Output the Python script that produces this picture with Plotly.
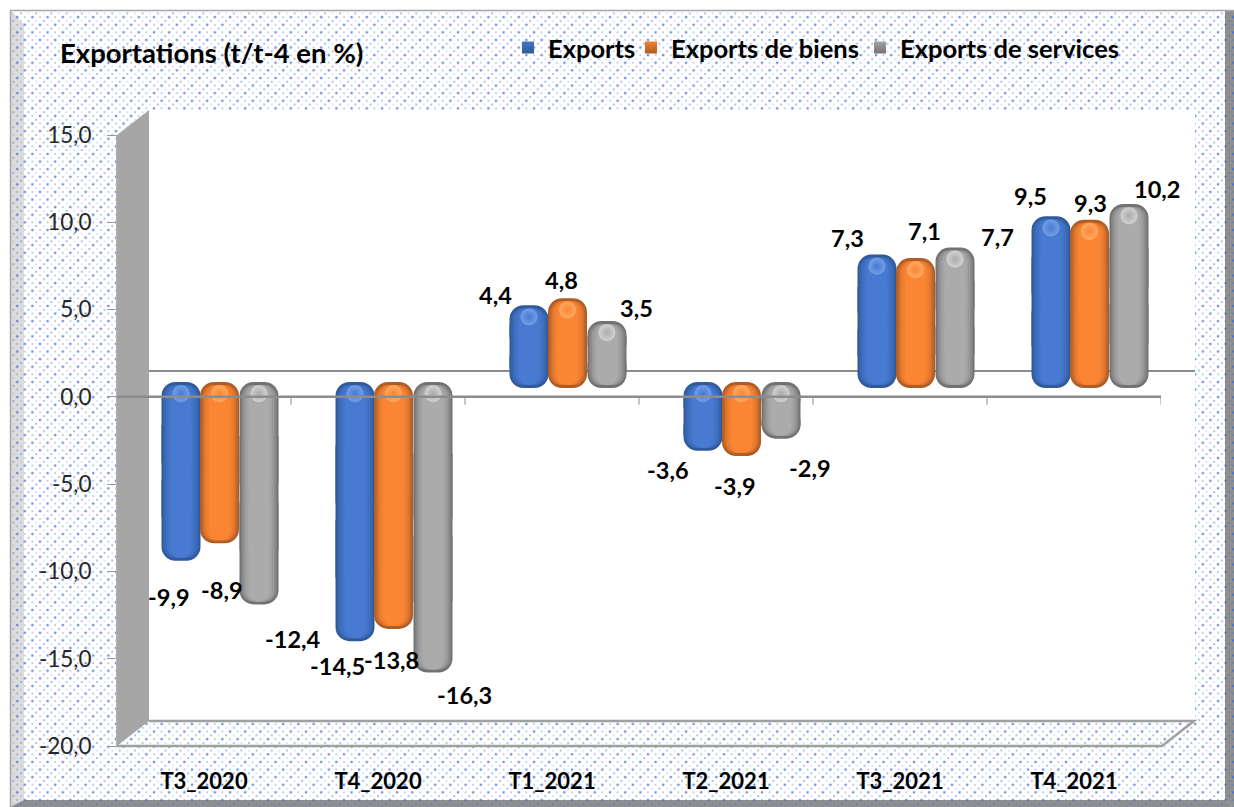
import base64
import plotly.graph_objects as go

# ---- data ----
categories = ["T3_2020", "T4_2020", "T1_2021", "T2_2021", "T3_2021", "T4_2021"]
exports = [-9.9, -14.5, 4.4, -3.6, 7.3, 9.5]
exports_biens = [-8.9, -13.8, 4.8, -3.9, 7.1, 9.3]
exports_services = [-12.4, -16.3, 3.5, -2.9, 7.7, 10.2]
series_names = ["Exports", "Exports de biens", "Exports de services"]
y_ticks = [15, 10, 5, 0, -5, -10, -15, -20]

# ---- layout constants (pixels) ----
W, H = 1234, 807
L, R, T, B = 117, 1161, 135, 746
PXU = (B - T) / 35.0      # px per value unit
CAT = (R - L) / 6.0       # px per category
BAR_ZERO_PX = 385         # bars sit on a plane raised above the front axis
CENTER_OFF = [-23, 15.5, 55]
LEGEND_X = [508, 631, 860]

def X(px): return (px - L) / (R - L)
def Y(py): return (B - py) / (B - T)

STYLES = [
    dict(edge="#305a9c", layers=["#3562a8", "#3a69b5", "#3f6fbf", "#4374c8", "#477ad0"], hi="#86aef0", name=series_names[0]),
    dict(edge="#ad5d25", layers=["#c0662a", "#d4702d", "#e5792f", "#f28031", "#fa8633"], hi="#ffb878", name=series_names[1]),
    dict(edge="#727272", layers=["#808080", "#8d8d8d", "#999999", "#a3a3a3", "#ababab"], hi="#e2e2e2", name=series_names[2]),
]
LAYER_W = [36, 33, 30, 26, 21]

# label shifts from the bar end (dx, dy in px, dy positive = down)
LABEL_SHIFT = [
    [(-12, 39), (-18, 28), (-34, -13), (-35, 22), (-30, -19.5), (-21, -23)],
    [(2.5, 50), (-2.5, 34), (-6.5, -21), (-6.5, 33), (8.5, -30), (0.5, -20)],
    [(34, 37.5), (31, 25), (29, -16), (29, 32), (42, -14), (28, -18)],
]

# ---- background (dots + frame) ----
dots = "".join(
    f'<circle cx="{cx}" cy="{cy}" r="{r}" fill="#3a6cd4" fill-opacity="{o}"/>'
    for cx, cy, r, o in [(2, 2, 1.35, .75), (9.6, 2, 1.0, .4), (5.8, 5.8, .9, .3), (13.4, 5.8, 1.1, .5),
                         (2, 9.6, 1.0, .42), (9.6, 9.6, 1.35, .75), (5.8, 13.4, 1.1, .5), (13.4, 13.4, .9, .3)]
)
svg = f'''<svg xmlns="http://www.w3.org/2000/svg" width="{W}" height="{H}" viewBox="0 0 {W} {H}">
<defs><pattern id="d" width="15.2" height="15.2" patternUnits="userSpaceOnUse">{dots}</pattern></defs>
<rect width="{W}" height="{H}" fill="#ffffff"/>
<rect x="10" y="10" width="{W-10}" height="{H-10}" fill="#ffffff"/>
<polygon points="10,10 24,24 24,800 10,807" fill="#dcdcdc"/>
<polygon points="1225,10 {W},10 {W},{H} 1225,800" fill="#8f8f8f"/>
<polygon points="10,807 24,800 1225,800 {W},{H}" fill="#8f8f8f"/>
<rect x="10" y="10" width="{W-10}" height="{H-10}" fill="url(#d)"/>
<rect x="10.5" y="10.5" width="{W}" height="{H}" fill="none" stroke="#a8a8a8" stroke-width="1.5"/>
</svg>'''
bg_uri = "data:image/svg+xml;base64," + base64.b64encode(svg.encode()).decode()

fig = go.Figure()

value_lists = [exports, exports_biens, exports_services]
xc = [i + 0.5 for i in range(len(categories))]


def add_cylinder(xs, vals, width_px, color, line, radius):
    """One shaded layer: two rounded halves of each bar plus a square middle piece."""
    half = [v / 2 for v in vals]
    for sign in (1, -1):
        fig.add_trace(go.Bar(x=xs, y=[sign * h for h in half], base=half, width=width_px / CAT,
                             yaxis="y2", showlegend=False, hoverinfo="skip",
                             marker=dict(color=color, line=line, cornerradius=radius)))
    fig.add_trace(go.Bar(x=xs, y=half, base=[v / 4 for v in vals], width=width_px / CAT,
                         yaxis="y2", showlegend=False, hoverinfo="skip",
                         marker=dict(color=color, line=line, cornerradius=0)))


for s, (vals, st) in enumerate(zip(value_lists, STYLES)):
    xs = [c + CENTER_OFF[s] / CAT for c in xc]
    add_cylinder(xs, vals, 33, st["edge"], dict(color=st["edge"], width=6), 11)
    for w, col in zip(LAYER_W, st["layers"]):
        add_cylinder(xs, vals, w, col, dict(width=0), 11)
    # highlight near the top of each cylinder
    fig.add_trace(go.Scatter(x=xs, y=[max(v, 0) - 0.5 for v in vals], yaxis="y2", mode="markers",
                             showlegend=False, hoverinfo="skip",
                             marker=dict(size=17, color=st["hi"], opacity=0.7, line=dict(width=0),
                                         gradient=dict(type="radial", color=st["layers"][4]))))

# legend entries (one legend per series so each sits where it should)
for k, st in enumerate(STYLES):
    fig.add_trace(go.Scatter(x=[None], y=[None], mode="markers", name=st["name"],
                             legend="legend" if k == 0 else f"legend{k + 1}",
                             marker=dict(symbol="square", size=17, color=st["layers"][3],
                                         line=dict(width=0),
                                         gradient=dict(type="vertical", color=st["edge"]))))

# value labels
annotations = []
for s, vals in enumerate(value_lists):
    for i, v in enumerate(vals):
        dx, dy = LABEL_SHIFT[s][i]
        annotations.append(dict(
            x=xc[i] + CENTER_OFF[s] / CAT, y=v, xref="x", yref="y2",
            text=f"{v:.1f}".replace(".", ","), showarrow=False,
            xanchor="center", yanchor="middle", xshift=dx, yshift=-dy,
            font=dict(family="Lato", size=23.5, color="#000000", weight=700)))

LINE = "#a0a0a0"
shapes = [
    # back wall
    dict(type="rect", xref="paper", yref="paper", x0=X(149), x1=X(1195), y0=Y(721), y1=Y(110),
         fillcolor="#ffffff", line=dict(width=0), layer="below"),
    # left wall
    dict(type="path", xref="paper", yref="paper",
         path=f"M {X(117)} {Y(135)} L {X(149)} {Y(110)} L {X(149)} {Y(721)} L {X(117)} {Y(746)} Z",
         fillcolor="#a6a6a6", line=dict(width=0), layer="below"),
    # floor outline
    dict(type="path", xref="paper", yref="paper",
         path=f"M {X(149)} {Y(721)} L {X(1194)} {Y(721)} L {X(1162)} {Y(746)} L {X(117)} {Y(746)}",
         line=dict(color=LINE, width=2.5), layer="below"),
    # back zero line
    dict(type="line", xref="paper", yref="paper", x0=X(149), x1=X(1195), y0=Y(371), y1=Y(371),
         line=dict(color="#8c8c8c", width=2), layer="below"),
    # front zero line, over the bars
    dict(type="line", xref="paper", yref="y", x0=X(117), x1=X(1161), y0=0, y1=0,
         line=dict(color="#8c8c8c", width=2.5), layer="above"),
]
for k in range(1, 7):
    shapes.append(dict(type="line", xref="x", yref="y", x0=k, x1=k, y0=0, y1=-0.45,
                       line=dict(color="#8c8c8c", width=1), layer="below"))

legend_font = dict(family="Lato", size=25.5, color="#000000", weight=700)
legends = {}
for k, lx in enumerate(LEGEND_X):
    legends["legend" if k == 0 else f"legend{k + 1}"] = dict(
        orientation="h", x=X(lx), xanchor="left", y=Y(48), yanchor="middle",
        bgcolor="rgba(0,0,0,0)", font=legend_font, itemsizing="constant")

fig.update_layout(
    width=W, height=H, autosize=False,
    margin=dict(l=L, r=W - R, t=T, b=H - B, pad=0),
    paper_bgcolor="rgba(0,0,0,0)", plot_bgcolor="rgba(0,0,0,0)",
    barmode="overlay", separators=", ",
    font=dict(family="Lato", color="#000000"),
    title=dict(text="Exportations (t/t-4 en %)", x=60 / W, xanchor="left", xref="container",
               y=1 - 53 / H, yanchor="middle", yref="container",
               font=dict(family="Lato", size=27.5, color="#000000", weight=700)),
    xaxis=dict(range=[0, 6], tickvals=xc, ticktext=categories, ticks="", showgrid=False, zeroline=False,
               showline=False, ticklabelstandoff=20,
               tickfont=dict(family="Lato", size=22, color="#000000", weight=700)),
    yaxis=dict(range=[-20, 15], tickvals=y_ticks, ticktext=[f"{t:.1f}".replace(".", ",") for t in y_ticks],
               ticks="outside", ticklen=9,
               tickwidth=1, tickcolor="#9a9a9a", showgrid=False, zeroline=False, showline=True,
               linecolor="#b0b0b0", linewidth=1, ticklabelstandoff=11,
               tickfont=dict(family="Lato", size=22.5, color="#262626")),
    yaxis2=dict(overlaying="y", side="left", visible=False,
                range=[-(B - BAR_ZERO_PX) / PXU, (BAR_ZERO_PX - T) / PXU]),
    images=[dict(source=bg_uri, xref="paper", yref="paper", x=X(0), y=Y(0), sizex=W / (R - L), sizey=H / (B - T),
                 sizing="stretch", layer="below", xanchor="left", yanchor="top", opacity=1)],
    shapes=shapes,
    annotations=annotations,
    **legends,
)

fig.write_html("out.html", config=dict(displayModeBar=False), post_script="document.body.style.margin='0';")
